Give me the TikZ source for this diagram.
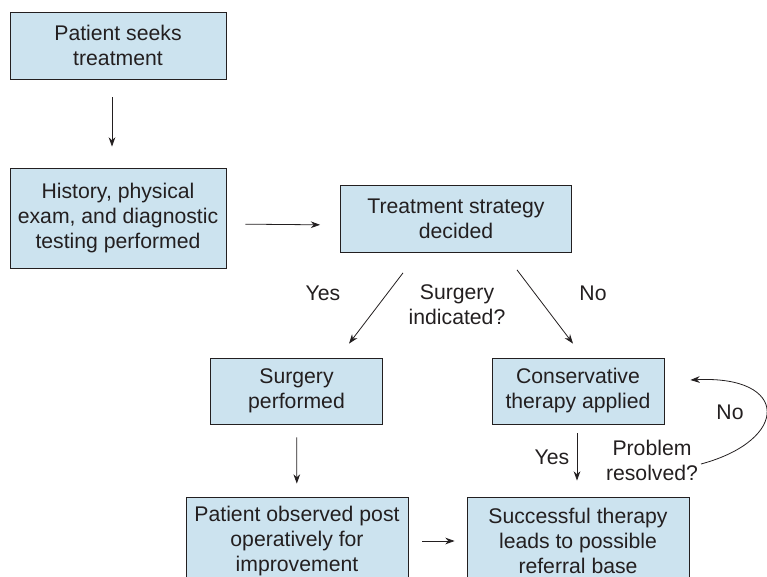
\documentclass[tikz,border=0pt]{standalone}
\usepackage{fontspec}
\setmainfont{Liberation Sans}
\usetikzlibrary{arrows.meta}
\definecolor{boxblue}{RGB}{204,227,239}
\definecolor{ink}{RGB}{35,31,32}
\tikzset{
  box/.style={draw=ink,fill=boxblue,align=center,line width=0.6pt,inner sep=0pt},
  txt/.style={align=center,inner sep=0pt}
}
\begin{document}
\begin{tikzpicture}[x=0.75pt,y=-0.75pt,
    every node/.append style={font=\fontsize{15.9}{18.75}\selectfont,text=ink},
    >={Stealth[length=7pt,width=5pt]},line width=0.6pt,draw=ink]
    \useasboundingbox (0,0) rectangle (767,577);
    \clip (0,0) rectangle (767,577);
    \node[box,minimum width=162pt,minimum height=50.25pt] (seeks) at (118,45.5) {Patient seeks\\treatment};
    \node[box,minimum width=162pt,minimum height=75pt] (history) at (118,218) {History, physical\\exam, and diagnostic\\testing performed};
    \node[box,minimum width=173.25pt,minimum height=50.25pt] (strategy) at (456,219) {Treatment strategy\\decided};
    \node[box,minimum width=129pt,minimum height=49.5pt] (surgery) at (296.5,391) {Surgery\\performed};
    \node[box,minimum width=129pt,minimum height=49.5pt] (conservative) at (578,391) {Conservative\\therapy applied};
    \node[box,minimum width=166.5pt,minimum height=66pt] (observed) at (297,541) {Patient observed post\\operatively for\\improvement};
    \node[box,minimum width=166.5pt,minimum height=66pt] (successful) at (578,541) {Successful therapy\\leads to possible\\referral base};
    %\node[txt] (question) at (457,305) {};
    \node[txt] (yes1) at (323,293) {Yes};
    \node[txt] (indicated) at (457,305) {Surgery\\indicated?};
    \node[txt] (no1) at (593,293) {No};
    \node[txt] (yes2) at (552,457) {Yes};
    \node[txt] (resolved) at (652,460) {Problem\\resolved?};
    \node[txt] (no2) at (730,412) {No};
    \draw[->,shorten <=13.5pt,shorten >=15.75pt] ([xshift=-4.5pt]seeks.south) -- ([xshift=-4.5pt]history.north);
    \draw[->,shorten <=14.25pt,shorten >=15pt] ([yshift=-4.5pt]history.east) -- ([yshift=-4.5pt]strategy.west);
    \draw[->] ([xshift=-39.75pt,yshift=-15pt]strategy.south) -- ([xshift=39.4pt,yshift=10.5pt]surgery.north);
    \draw[->] ([xshift=45.75pt,yshift=-12.75pt]strategy.south) -- ([xshift=-3.75pt,yshift=10.5pt]conservative.north);
    \draw[->,shorten <=9.75pt,shorten >=9.75pt] (surgery) -- (observed);
    \draw[->,shorten <=6.75pt,shorten >=12pt] ([xshift=-0.75pt]conservative.south) -- ([xshift=-0.75pt]successful.north);
    \draw[->,shorten <=10.5pt,shorten >=9pt] (observed) -- (successful);
    \draw[->] ([xshift=2pt,yshift=-3pt]resolved.east) .. controls (790,440) and (790,375) .. ([xshift=19.5pt,yshift=8.25pt]conservative.east);
\end{tikzpicture}
\end{document}
